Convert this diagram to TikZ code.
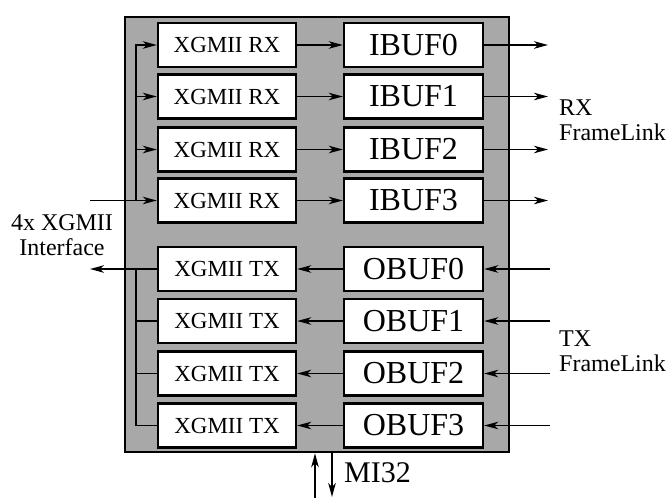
\documentclass[tikz,border=0pt]{standalone}
\usepackage{fontspec}
\setmainfont{Liberation Serif}
\usetikzlibrary{arrows.meta,positioning}
\definecolor{coregray}{gray}{0.66}

\begin{document}
\begin{tikzpicture}[
        x=1pt, y=-1pt,
        >={Stealth[length=14pt,width=7.5pt,inset=4pt]},
        core/.style={rectangle, draw, line width=2.4pt, fill=coregray,
            minimum width=384pt, minimum height=435pt, inner sep=0pt},
        phy/.style={rectangle, draw, line width=2.4pt, fill=white,
            minimum width=138pt, minimum height=44pt, inner sep=0pt,
            font=\fontsize{23}{26}\selectfont},
        buf/.style={rectangle, draw, line width=2.4pt, fill=white,
            minimum width=139pt, minimum height=44pt, inner sep=0pt,
            font=\fontsize{32}{36}\selectfont},
        lbl/.style={align=left, inner sep=0pt, font=\fontsize{24}{25}\selectfont},
        wire/.style={line width=1.8pt}
    ]
        \useasboundingbox (0,0) rectangle (670,498);

        \node[core] (core) at (317,234.5) {};

        \node[phy] (rx0) at (227,45)    {XGMII RX};
        \node[phy] (rx1) at (227,96.5)  {XGMII RX};
        \node[phy] (rx2) at (227,149.5) {XGMII RX};
        \node[phy] (rx3) at (227,200.5) {XGMII RX};
        \node[phy] (tx0) at (227,269)   {XGMII TX};
        \node[phy] (tx1) at (227,321)   {XGMII TX};
        \node[phy] (tx2) at (227,373.5) {XGMII TX};
        \node[phy] (tx3) at (227,425.5) {XGMII TX};

        \node[buf] (ib0) at (413.5,45)    {IBUF0};
        \node[buf] (ib1) at (413.5,96.5)  {IBUF1};
        \node[buf] (ib2) at (413.5,149.5) {IBUF2};
        \node[buf] (ib3) at (413.5,200.5) {IBUF3};
        \node[buf] (ob0) at (413.5,269)   {OBUF0};
        \node[buf] (ob1) at (413.5,321)   {OBUF1};
        \node[buf] (ob2) at (413.5,373.5) {OBUF2};
        \node[buf] (ob3) at (413.5,425.5) {OBUF3};

        \node[lbl, align=center] (xgmii) at (62,235) {4x XGMII\\Interface};
        \node[lbl, anchor=west] (rxfl) at (559,120) {RX\\FrameLink};
        \node[lbl, anchor=west] (txfl) at (559,351) {TX\\FrameLink};
        \node[inner sep=0pt, anchor=west, font=\fontsize{30}{32}\selectfont] (mi) at (344,473) {MI32};

        \coordinate (rxin)  at (90,200.5);
        \coordinate (txout) at (90,269);
        \coordinate (rxbus) at (136,0);
        \coordinate (txbus) at (136,0);
        \coordinate (rxend) at (548,0);
        \coordinate (obend) at (550,0);
        \coordinate (miup)  at (315,498);
        \coordinate (midn)  at (332,497);

        % XGMII receive side
        \draw[wire,->] (rxin) -- (rx3.west);
        \draw[wire,->] (rxbus |- rx3.west) |- (rx0.west);
        \draw[wire,->] (rxbus |- rx1.west) -- (rx1.west);
        \draw[wire,->] (rxbus |- rx2.west) -- (rx2.west);

        % XGMII transmit side
        \draw[wire,->] (tx0.west) -- (txout);
        \draw[wire] (tx3.west) -| (txbus |- tx0.west);
        \draw[wire] (tx1.west) -- (txbus |- tx1.west);
        \draw[wire] (tx2.west) -- (txbus |- tx2.west);

        \draw[wire,->] (rx0) -- (ib0);
        \draw[wire,->] (rx1) -- (ib1);
        \draw[wire,->] (rx2) -- (ib2);
        \draw[wire,->] (rx3) -- (ib3);
        \draw[wire,->] (ob0) -- (tx0);
        \draw[wire,->] (ob1) -- (tx1);
        \draw[wire,->] (ob2) -- (tx2);
        \draw[wire,->] (ob3) -- (tx3);

        \draw[wire,->] (ib0.east) -- (rxend |- ib0.east);
        \draw[wire,->] (ib1.east) -- (rxend |- ib1.east);
        \draw[wire,->] (ib2.east) -- (rxend |- ib2.east);
        \draw[wire,->] (ib3.east) -- (rxend |- ib3.east);
        \draw[wire,->] (obend |- ob0.east) -- (ob0.east);
        \draw[wire,->] (obend |- ob1.east) -- (ob1.east);
        \draw[wire,->] (obend |- ob2.east) -- (ob2.east);
        \draw[wire,->] (obend |- ob3.east) -- (ob3.east);

        % MI32 bus
        \draw[wire,->] (miup) -- (miup |- core.south);
        \draw[wire,->] (midn |- core.south) -- (midn);
    \end{tikzpicture}
\end{document}
